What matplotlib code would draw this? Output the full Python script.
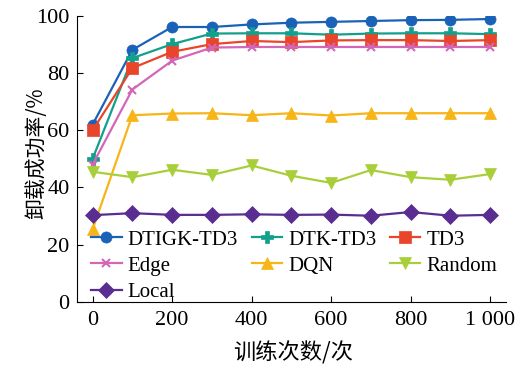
import matplotlib
matplotlib.use("Agg")
import matplotlib.pyplot as plt

# 训练次数
episodes = [0, 100, 200, 300, 400, 500, 600, 700, 800, 900, 1000]

# 卸载成功率 (%)
dtigk_td3 = [62.0, 88.2, 96.2, 96.2, 97.1, 97.7, 98.0, 98.3, 98.6, 98.7, 99.0]
dtk_td3 = [50.0, 85.3, 90.2, 93.9, 94.0, 94.0, 93.5, 93.9, 94.0, 94.0, 93.7]
td3 = [60.0, 81.8, 87.5, 90.2, 91.3, 90.9, 91.5, 91.6, 91.6, 91.3, 91.6]
edge = [48.0, 74.3, 84.4, 89.0, 89.2, 89.2, 89.2, 89.2, 89.2, 89.2, 89.2]
dqn = [25.3, 65.3, 65.9, 66.0, 65.3, 66.0, 65.2, 66.0, 66.0, 66.0, 66.0]
random_ = [45.5, 43.6, 46.2, 44.4, 47.7, 44.1, 41.6, 46.1, 43.6, 42.7, 44.7]
local = [30.3, 31.0, 30.4, 30.4, 30.6, 30.4, 30.5, 30.1, 31.4, 30.1, 30.4]

labels = ["DTIGK-TD3", "DTK-TD3", "TD3", "Edge", "DQN", "Random", "Local"]
series = [dtigk_td3, dtk_td3, td3, edge, dqn, random_, local]
colors = ["#1a62b8", "#12a08c", "#e8452a", "#d466b8", "#f7b517", "#a8cf3a", "#5a2d91"]
markers = ["o", "P", "s", "x", "^", "v", "D"]

plt.rcParams["font.family"] = ["Liberation Serif", "Noto Sans CJK SC"]
plt.rcParams["font.size"] = 14

fig = plt.figure(figsize=(5.18, 3.67), dpi=100)
ax = fig.add_axes([0.148, 0.178, 0.829, 0.778])

handles = []
for y, lab, c, m in zip(series, labels, colors, markers):
    ms = 8 if m != "x" else 6
    h, = ax.plot(episodes, y, color=c, marker=m, markersize=ms, linewidth=1.6,
                 markeredgewidth=1.5 if m == "x" else 0.5, label=lab)
    handles.append(h)

ax.set_xlim(-40, 1040)
ax.set_ylim(0, 100)
ax.set_xticks([0, 200, 400, 600, 800, 1000])
ax.set_xticklabels(["0", "200", "400", "600", "800", "1 000"])
ax.set_yticks([0, 20, 40, 60, 80, 100])
ax.tick_params(direction="in", length=4, width=0.8, labelsize=16)
ax.tick_params(axis="x", pad=7)
ax.tick_params(axis="y", pad=5)
ax.spines["top"].set_visible(False)
ax.spines["right"].set_visible(False)

ax.set_xlabel("训练次数/次", family=["Noto Sans CJK SC"], fontsize=16)
ax.set_ylabel("卸载成功率/%", family=["Noto Sans CJK SC"], fontsize=15)
ax.xaxis.set_label_coords(0.503, -0.14)
ax.yaxis.set_label_coords(-0.068, 0.52)

# legend filled column-wise, so reorder to read row by row
order = [0, 3, 6, 1, 4, 2, 5]
ax.legend([handles[i] for i in order], [labels[i] for i in order],
          ncol=3, loc="lower left", bbox_to_anchor=(0.005, -0.045), frameon=False,
          fontsize=15, handlelength=1.45, handletextpad=0.3, columnspacing=0.65,
          labelspacing=0.32, borderaxespad=0.2)

fig.savefig("out.png", dpi=100, facecolor="white")
